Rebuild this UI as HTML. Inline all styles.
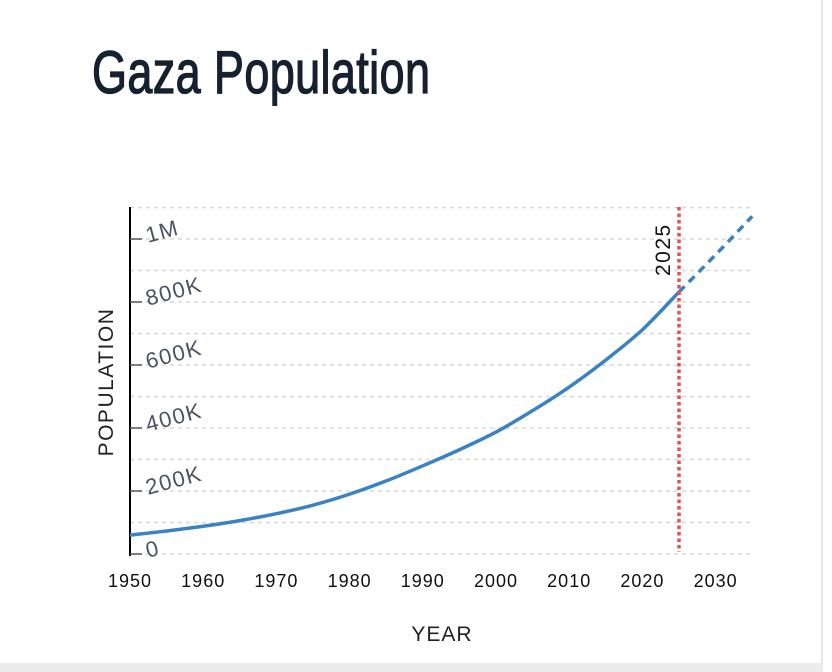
<!DOCTYPE html>
<html><head><meta charset="utf-8"><style>
body{margin:0;width:832px;height:672px;overflow:hidden;background:#fff;font-family:"Liberation Sans",sans-serif;}
#frame{position:absolute;left:0;top:0;width:821px;height:663px;border-right:2px solid #e6e6e6;border-bottom:9px solid #ececec;background:#fff;}
h1{position:absolute;left:92px;top:38px;margin:0;font-size:60px;font-weight:normal;color:#17202e;transform:scaleX(0.75);transform-origin:left top;letter-spacing:0.5px;-webkit-text-stroke:1.3px #17202e;}
</style></head><body>
<div id="frame"></div>
<h1>Gaza Population</h1>
<svg id="chart" width="832" height="672" style="position:absolute;left:0;top:0"></svg>
<script>
const years=[1950,1955,1960,1965,1970,1975,1980,1985,1990,1995,2000,2005,2010,2015,2020,2025];
const pops=[60000,73000,88000,106000,128000,155000,190000,232000,280000,331000,387000,455000,530000,616000,712000,832000];
const projYears=[2025,2030,2035];
const projPops=[832000,950000,1072000];
const yTicks=[0,200000,400000,600000,800000,1000000];
const yTickLabels=["0","200K","400K","600K","800K","1M"];
const xTicks=[1950,1960,1970,1980,1990,2000,2010,2020,2030];
const markerYear=2025;
const NS="http://www.w3.org/2000/svg";
const svg=document.getElementById('chart');
const x=v=>130+(v-1950)*7.32;
const y=v=>554-v*0.000315;
function mk(t,a){const e=document.createElementNS(NS,t);for(const k in a)e.setAttribute(k,a[k]);svg.appendChild(e);return e;}
for(let v=0;v<=1100000;v+=100000){
  const g=mk('line',{x1:130,x2:752,y1:y(v),y2:y(v),stroke:'#d8d8d8','stroke-width':1.5,'stroke-dasharray':'4,4'});
  
  
}
const ax=mk('line',{x1:130,x2:130,y1:207,y2:556,stroke:'#000','stroke-width':2});


yTicks.forEach((v,i)=>{
  const t=mk('line',{x1:130,x2:142,y1:y(v),y2:y(v),stroke:'#555','stroke-width':1.5});
  
  
  const l=mk('text',{x:147,y:y(v)+4,'font-size':22,'letter-spacing':1.5,fill:'#4a5264',transform:`rotate(-15 147 ${y(v)})`});
  l.textContent=yTickLabels[i];
  
  
});
xTicks.forEach(v=>{
  const l=mk('text',{x:x(v),y:587,'font-size':18,'letter-spacing':1,fill:'#111','text-anchor':'middle'});
  l.textContent=v;
  
  
});
function path(xs,ys){
  const p=xs.map((v,i)=>[x(v),y(ys[i])]);
  let d=`M${p[0][0]},${p[0][1]}`;
  for(let i=0;i<p.length-1;i++){
    const p0=p[i-1]||p[i],p1=p[i],p2=p[i+1],p3=p[i+2]||p2;
    d+=` C${p1[0]+(p2[0]-p0[0])/6},${p1[1]+(p2[1]-p0[1])/6} ${p2[0]-(p3[0]-p1[0])/6},${p2[1]-(p3[1]-p1[1])/6} ${p2[0]},${p2[1]}`;
  }
  return d;
}
const ln=mk('path',{d:path(years,pops),fill:'none',stroke:'#3b82c4','stroke-width':3.5});


const pl=mk('path',{d:path(projYears,projPops),fill:'none',stroke:'#3b82c4','stroke-width':3.5,'stroke-dasharray':'8,6'});


const mx=x(markerYear);
const ml=mk('line',{x1:mx,x2:mx,y1:207,y2:552,stroke:'#e8504d','stroke-width':3.5,'stroke-dasharray':'3.5,3'});


const mt=mk('text',{x:mx-9,y:276,'font-size':21,'letter-spacing':1.5,fill:'#111',transform:`rotate(-90 ${mx-9} 276)`});
mt.textContent=markerYear;


const yt=mk('text',{x:113,y:382,'font-size':21,'letter-spacing':1.5,fill:'#222','text-anchor':'middle',transform:'rotate(-90 113 382)'});
yt.textContent='POPULATION';


const xt=mk('text',{x:442,y:641,'font-size':21,'letter-spacing':1,fill:'#222','text-anchor':'middle'});
xt.textContent='YEAR';


</script>
</body></html>
